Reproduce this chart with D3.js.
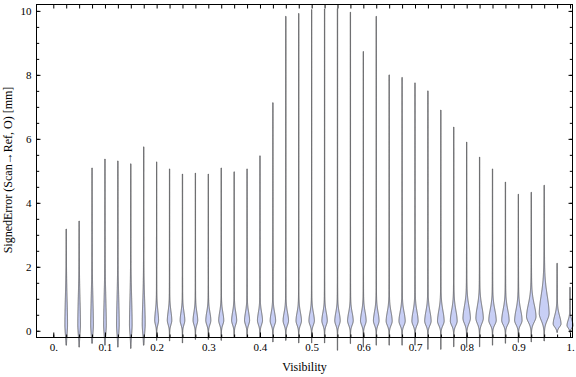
<!DOCTYPE html>
<html><head><meta charset="utf-8">
<script src="https://cdn.jsdelivr.net/npm/d3@7"></script>
<style>body{margin:0;background:#fff}svg{display:block}text{font-family:"Liberation Serif","Times New Roman",serif}</style>
</head><body>
<svg id="c" width="576" height="377"></svg>
<script>
// ---- data ----
const visibility = [0.025,0.05,0.075,0.1,0.125,0.15,0.175,0.2,0.225,0.25,0.275,0.3,0.325,0.35,0.375,0.4,0.425,0.45,0.475,0.5,0.525,0.55,0.575,0.6,0.625,0.65,0.675,0.7,0.725,0.75,0.775,0.8,0.825,0.85,0.875,0.9,0.925,0.95,0.975,1.0];
const maxError = [3.18,3.43,5.09,5.37,5.31,5.22,5.75,5.28,5.06,4.9,4.93,4.9,5.09,4.97,5.06,5.47,7.13,9.83,9.92,10.04,10.06,10.07,9.96,8.73,9.83,8.0,7.92,7.75,7.5,6.9,6.37,5.9,5.43,5.06,4.65,4.27,4.33,4.55,2.11,1.36];
const minError = [-0.45,-0.51,-0.39,-0.45,-0.51,-0.55,-0.45,-0.30,-0.32,-0.38,-0.27,-0.27,-0.30,-0.19,-0.2,-0.2,-0.35,-0.30,-0.38,-0.38,-0.38,-0.61,-0.4,-0.51,-0.45,-0.45,-0.45,-0.45,-0.58,-0.58,-0.5,-0.52,-0.5,-0.45,-0.39,-0.36,-0.35,-0.32,-0.05,-0.05];
const modeError = [0.2,0.2,0.2,0.2,0.2,0.2,0.22,0.33,0.33,0.33,0.33,0.33,0.33,0.33,0.33,0.33,0.32,0.32,0.32,0.32,0.32,0.32,0.32,0.32,0.32,0.31,0.31,0.31,0.31,0.31,0.31,0.4,0.4,0.33,0.33,0.33,0.45,0.55,0.22,0.17];
const peakDensity = [1.2,1.2,1.2,1.2,1.2,1.2,1.35,1.8,2.1,2.2,2.2,2.4,2.4,2.4,2.4,2.4,2.6,2.6,2.6,2.6,2.6,2.6,2.7,2.7,2.7,2.9,3.0,3.0,3.1,3.2,3.3,3.6,3.6,3.6,3.6,3.6,4.6,4.8,3.8,2.9];
const upperSpread = [0.8,0.8,0.8,0.8,0.8,0.8,0.7,0.3,0.28,0.26,0.25,0.25,0.25,0.25,0.25,0.25,0.25,0.25,0.25,0.25,0.25,0.25,0.25,0.27,0.27,0.28,0.28,0.3,0.3,0.32,0.33,0.36,0.36,0.33,0.33,0.33,0.38,0.55,0.25,0.16];
const lowerSpread = [0.3,0.3,0.3,0.3,0.3,0.3,0.3,0.14,0.14,0.14,0.14,0.14,0.14,0.14,0.14,0.14,0.14,0.14,0.14,0.14,0.14,0.14,0.14,0.14,0.14,0.14,0.14,0.14,0.14,0.14,0.14,0.17,0.17,0.14,0.14,0.14,0.18,0.22,0.1,0.08];
const xMajorTicks = [0,0.1,0.2,0.3,0.4,0.5,0.6,0.7,0.8,0.9,1.0];
const xTickLabels = ["0.","0.1","0.2","0.3","0.4","0.5","0.6","0.7","0.8","0.9","1."];
const yMajorTicks = [0,2,4,6,8,10];
const yTickLabels = ["0","2","4","6","8","10"];
const xTitle = "Visibility";
const yTitle = "SignedError (Scan\u2192Ref, O) [mm]";

// ---- layout ----
const L = 36.5, R = 572.5, T = 4.5, B = 337.5;
const svg = d3.select("#c");
const x = d3.scaleLinear().domain([-0.0325, 1.0048]).range([L, R]);
const y = d3.scaleLinear().domain([-0.21, 10.2]).range([B, T]);
const w = d3.scaleLinear().domain([0, 1]).range([0, 1]);

svg.append("defs").append("clipPath").attr("id","clip")
  .append("rect").attr("x", L).attr("y", T).attr("width", R - L + 4).attr("height", 377 - T);

const g = svg.append("g").attr("clip-path","url(#clip)");

visibility.forEach((vis, i) => {
  const lo = minError[i], hi = maxError[i], m = modeError[i];
  const pts = [];
  const n = Math.ceil((hi - lo) / 0.01);
  for (let k = 0; k <= n; k++) {
    const v = lo + (hi - lo) * k / n;
    let shape;
    if (v < m) shape = Math.exp(-0.5 * ((v - m) / lowerSpread[i]) ** 2);
    else shape = 0.82 * Math.exp(-0.5 * ((v - m) / upperSpread[i]) ** 2)
               + 0.18 * Math.exp(-(v - m) / (2 * upperSpread[i]));
    pts.push({v, d: peakDensity[i] * shape});
  }
  const area = d3.area()
    .y(p => y(p.v))
    .x0(p => x(vis) - w(p.d) - 0.15)
    .x1(p => x(vis) + w(p.d) + 0.15)
    .curve(d3.curveLinear);
  g.append("path").attr("d", area(pts))
    .attr("fill", "rgb(200,207,245)")
    .attr("stroke", "#4f4f4f")
    .attr("stroke-width", 0.9)
    .attr("stroke-opacity", 0.9);
});

// ---- axes ----
const minorX = d3.range(0, 41).map(k => k * 0.025);
const minorY = d3.range(0, 21).map(k => k * 0.5);
const fmtX = d => xTickLabels[xMajorTicks.findIndex(t => Math.abs(t - d) < 1e-9)];
const fmtY = d => yTickLabels[yMajorTicks.indexOf(d)];

function style(sel){
  sel.select(".domain").remove();
  sel.selectAll("line").attr("stroke","#000").attr("stroke-width",1);
  sel.selectAll("text").attr("fill","#000").style("font-size","11px").style("font-family",'"Liberation Serif",serif');
}
svg.append("g").attr("transform",`translate(0,${B})`)
  .call(d3.axisBottom(x).tickValues(minorX).tickSize(-3).tickFormat("")).call(style);
svg.append("g").attr("transform",`translate(0,${B})`)
  .call(d3.axisBottom(x).tickValues(xMajorTicks).tickSize(-5).tickPadding(6).tickFormat(fmtX)).call(style);
svg.append("g").attr("transform",`translate(0,${T})`)
  .call(d3.axisTop(x).tickValues(minorX).tickSize(-4).tickFormat("")).call(style);
svg.append("g").attr("transform",`translate(${L},0)`)
  .call(d3.axisLeft(y).tickValues(minorY).tickSize(-2.7).tickFormat("")).call(style);
svg.append("g").attr("transform",`translate(${L},0)`)
  .call(d3.axisLeft(y).tickValues(yMajorTicks).tickSize(-4).tickPadding(5).tickFormat(fmtY)).call(style);
svg.append("g").attr("transform",`translate(${R},0)`)
  .call(d3.axisRight(y).tickValues(minorY).tickSize(-2.7).tickFormat("")).call(style);
svg.append("g").attr("transform",`translate(${R},0)`)
  .call(d3.axisRight(y).tickValues(yMajorTicks).tickSize(-4).tickFormat("")).call(style);

svg.append("rect").attr("x",L).attr("y",T).attr("width",R-L).attr("height",B-T)
  .attr("fill","none").attr("stroke","#000").attr("stroke-width",1);

svg.append("text").attr("x",(L+R)/2).attr("y",370.5).attr("text-anchor","middle")
  .style("font-size","12px").text(xTitle);
svg.append("text").attr("transform",`translate(12,170) rotate(-90)`).attr("text-anchor","middle")
  .style("font-size","12px").text(yTitle);
</script>
</body></html>
